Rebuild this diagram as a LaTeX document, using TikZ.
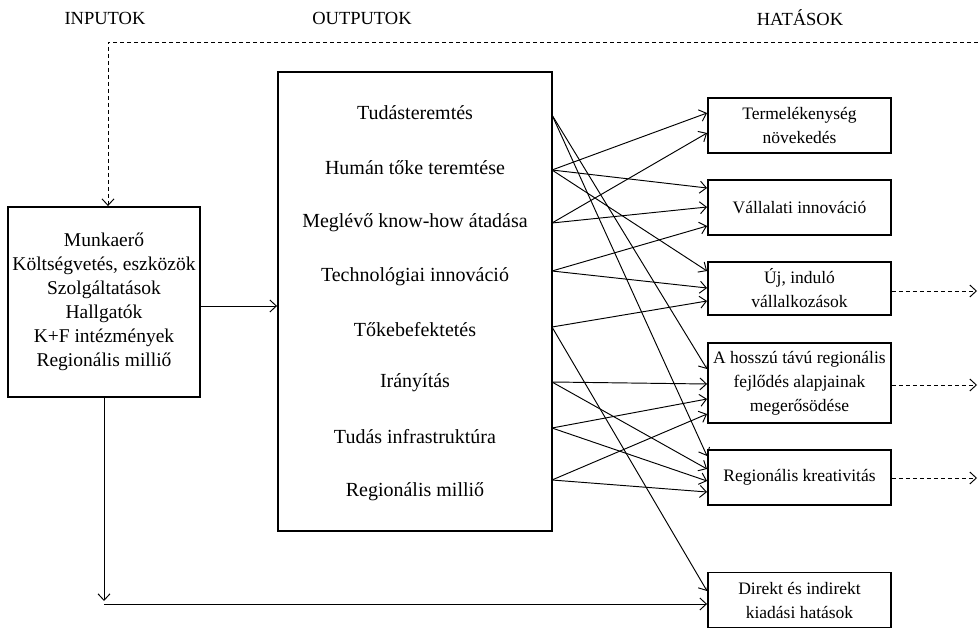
\documentclass[tikz,border=0pt]{standalone}
\usepackage{fontspec}
\setmainfont{Liberation Serif}
\usetikzlibrary{arrows.meta}
\begin{document}
\begin{tikzpicture}[x=1pt,y=-1pt,
  box/.style={draw, line width=1.9pt, align=center, inner sep=0pt},
  conn/.style={line width=0.95pt, -{Straight Barb[length=6.5pt,width=12pt,line width=0.95pt]}},
  dsh/.style={dash pattern=on 4pt off 3pt},
  item/.style={font=\fontsize{20}{24}\selectfont},
  hdr/.style={font=\fontsize{18.5}{22}\selectfont},
  rbox/.style={box, minimum width=183pt, font=\fontsize{17.5}{24}\selectfont}
]
\useasboundingbox (0,0) rectangle (978,634);

% headers
\node[hdr] (h1) at (105,18) {INPUTOK};
\node[hdr] (h2) at (362,18) {OUTPUTOK};
\node[hdr] (h3) at (800,18) {HATÁSOK};

% input box
\node[box, minimum width=192pt, minimum height=190pt, font=\fontsize{19.5}{24}\selectfont] (inbox) at (104,302)
  {Munkaerő\\Költségvetés, eszközök\\Szolgáltatások\\Hallgatók\\K+F intézmények\\Regionális milliő};

% output box
\node[box, minimum width=274pt, minimum height=459pt] (outbox) at (415,301.5) {};
\node[item] (t1) at (415,113) {Tudásteremtés};
\node[item] (t2) at (415,168) {Humán tőke teremtése};
\node[item] (t3) at (415,223) {Meglévő know-how átadása};
\node[item] (t4) at (415,277) {Technológiai innováció};
\node[item] (t5) at (415,330) {Tőkebefektetés};
\node[item] (t6) at (415,383) {Irányítás};
\node[item] (t7) at (415,437) {Tudás infrastruktúra};
\node[item] (t8) at (415,492) {Regionális milliő};

% start points on the right edge of the output box
\coordinate (s1) at (552,115);
\coordinate (s2) at (552,170);
\coordinate (s3) at (552,223);
\coordinate (s4) at (552,271);
\coordinate (s5) at (552,327);
\coordinate (s6) at (552,382);
\coordinate (s7) at (552,428);
\coordinate (s8) at (552,480);

% impact boxes
\node[rbox, minimum height=55pt] (termel) at (799.5,125.5) {Termelékenység\\növekedés};
\node[rbox, minimum height=55pt] (vall) at (799.5,207.5) {Vállalati innováció};
\node[rbox, minimum height=53pt] (uj) at (799.5,288.5) {Új, induló\\vállalkozások};
\node[rbox, minimum height=80pt] (ahossz) at (799.5,383) {A hosszú távú regionális\\fejlődés alapjainak\\megerősödése};
\node[rbox, minimum height=55pt] (regk) at (799.5,477.5) {Regionális kreativitás};
\node[rbox, minimum height=55pt] (direkt) at (799.5,600) {Direkt és indirekt\\kiadási hatások};

% output -> impact connectors
\draw[conn] (s1) -- ([yshift=14pt]ahossz.west);
\draw[conn] (s1) -- ([yshift=21.5pt]regk.west);
\draw[conn] (s2) -- ([yshift=12.5pt]termel.west);
\draw[conn] (s2) -- ([yshift=19.5pt]vall.west);
\draw[conn] (s2) -- ([yshift=17.5pt]uj.west);
\draw[conn] (s3) -- ([yshift=-7.5pt]termel.west);
\draw[conn] (s3) -- ([yshift=0.5pt]vall.west);
\draw[conn] (s4) -- ([yshift=-18.5pt]vall.west);
\draw[conn] (s4) -- ([yshift=0.5pt]uj.west);
\draw[conn] (s5) -- ([yshift=-12.5pt]uj.west);
\draw[conn] (s5) -- ([yshift=9pt]direkt.west);
\draw[conn] (s6) -- ([yshift=-1pt]ahossz.west);
\draw[conn] (s6) -- ([yshift=8.5pt]regk.west);
\draw[conn] (s7) -- ([yshift=-16pt]ahossz.west);
\draw[conn] (s7) -- ([yshift=-3.5pt]regk.west);
\draw[conn] (s8) -- ([yshift=-31pt]ahossz.west);
\draw[conn] (s8) -- ([yshift=-14.5pt]regk.west);

% input -> output
\coordinate (ia) at ([yshift=-4pt]inbox.east);
\draw[conn] (ia) -- (ia -| outbox.west);

% feedback dashed line
\coordinate (topR) at (978,42);
\draw[conn,dsh] (topR) -| ([xshift=4pt]inbox.north);

% dashed outgoing arrows
\coordinate (rEnd) at (977,0);
\coordinate (d1) at ([yshift=-2.5pt]uj.east);
\coordinate (d2) at ([yshift=-2pt]ahossz.east);
\coordinate (d3) at ([yshift=-0.5pt]regk.east);
\draw[conn,dsh] (d1) -- (d1 -| rEnd);
\draw[conn,dsh] (d2) -- (d2 -| rEnd);
\draw[conn,dsh] (d3) -- (d3 -| rEnd);

% bottom lines
\coordinate (vb) at (104,601);
\coordinate (hb) at (104,604);
\draw[conn] (inbox.south) -- (vb);
\draw[conn] (hb) -- (hb -| direkt.west);
\end{tikzpicture}
\end{document}
